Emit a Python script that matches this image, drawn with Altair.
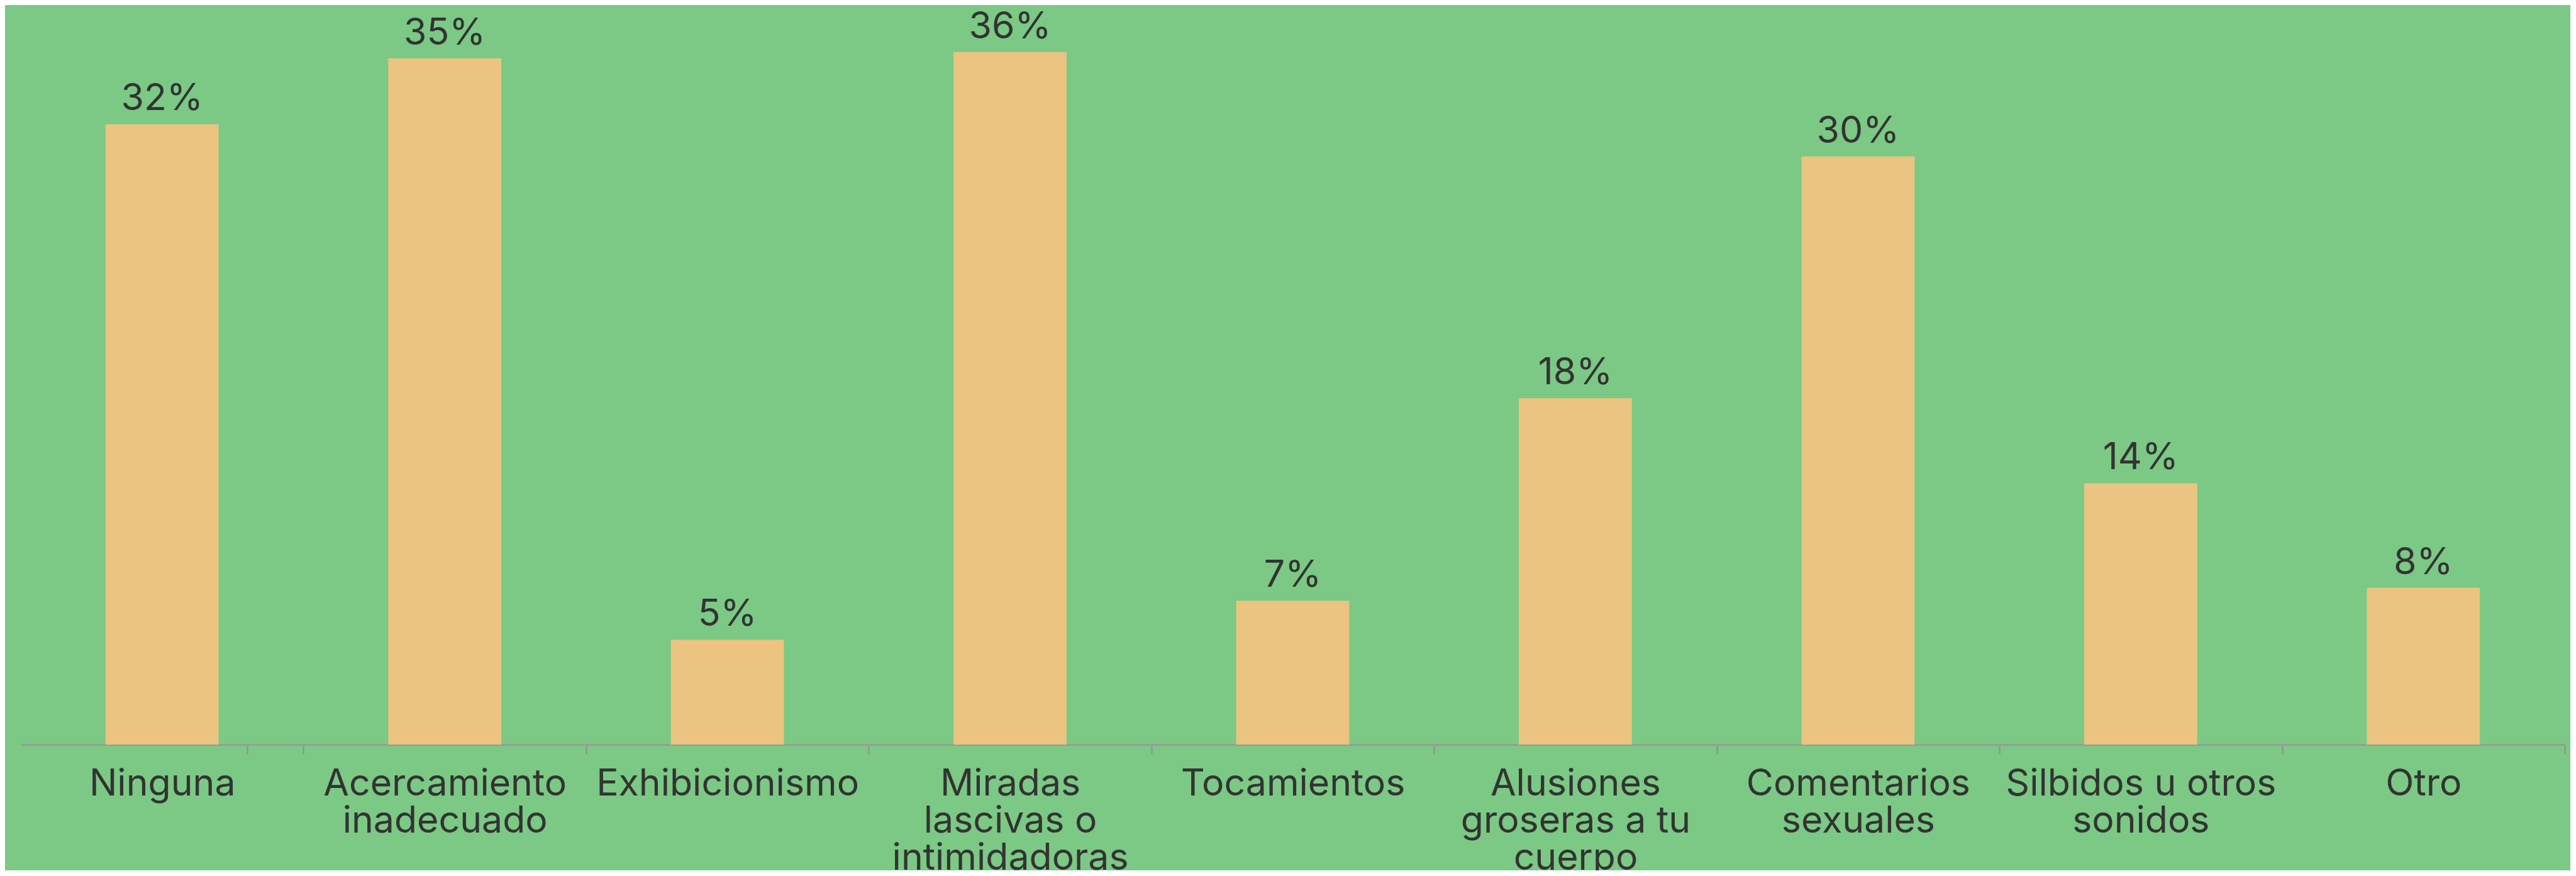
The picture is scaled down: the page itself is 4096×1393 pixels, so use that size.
import altair as alt
import pandas as pd

categories = ["Ninguna", "Acercamiento inadecuado", "Exhibicionismo",
              "Miradas lascivas o intimidadoras", "Tocamientos",
              "Alusiones groseras a tu cuerpo", "Comentarios sexuales",
              "Silbidos u otros sonidos", "Otro"]
wrapped = ["Ninguna", "Acercamiento|inadecuado", "Exhibicionismo",
           "Miradas|lascivas o|intimidadoras", "Tocamientos",
           "Alusiones|groseras a tu|cuerpo", "Comentarios|sexuales",
           "Silbidos u otros|sonidos", "Otro"]
values = [32.05, 35.45, 5.41, 35.77, 7.43, 17.89, 30.38, 13.5, 8.1]
value_labels = ["32%", "35%", "5%", "36%", "7%", "18%", "30%", "14%", "8%"]

df = pd.DataFrame({"cat": categories, "val": values, "lab": value_labels})

BG = "#7bc984"
BAR = "#eac480"
TXT = "#333333"
FONT = "Inter"
W = 4045
HALF_STEP = W / len(categories) / 2

def js_arr(items):
    return "[" + ",".join("'" + s + "'" for s in items) + "]"

idx = "indexof(" + js_arr(categories) + ", datum.label)"
label_expr = ("(" + idx + " < 0) ? '' : split(" + js_arr(wrapped) + "[" + idx + "], '|')")

x = alt.X("cat:N", sort=categories, title=None,
          scale=alt.Scale(paddingInner=0.6, paddingOuter=0.3),
          axis=alt.Axis(labelAngle=0, labelExpr=label_expr, labelFont=FONT,
                        labelFontSize=59, labelColor=TXT, labelLineHeight=59,
                        labelPadding=18, labelLimit=0, ticks=True,
                        tickOffset=HALF_STEP, labelOffset=-HALF_STEP, tickExtra=True,
                        tickSize=15, tickColor="#949494", tickWidth=2.5,
                        domainColor="#9a9a9a", domainWidth=3,
                        labelBaseline="top"))
y = alt.Y("val:Q", title=None, scale=alt.Scale(domain=[0, 37], nice=False, zero=True),
          axis=None)

bars = alt.Chart(df).mark_bar(color=BAR).encode(x=x, y=y)
texts = alt.Chart(df).mark_text(font=FONT, fontSize=59, color=TXT,
                                baseline="alphabetic", dy=-22).encode(
    x=alt.X("cat:N", sort=categories), y="val:Q", text="lab:N")

chart = alt.layer(bars, texts).properties(
    width=W, height=1139,
    autosize=alt.AutoSizeParams(type="none"),
    padding={"left": 25, "top": 37, "right": 9, "bottom": 200},
    background=BG,
).configure_view(stroke=None)

chart.save("out.html", embed_options={"renderer": "svg", "actions": False})
